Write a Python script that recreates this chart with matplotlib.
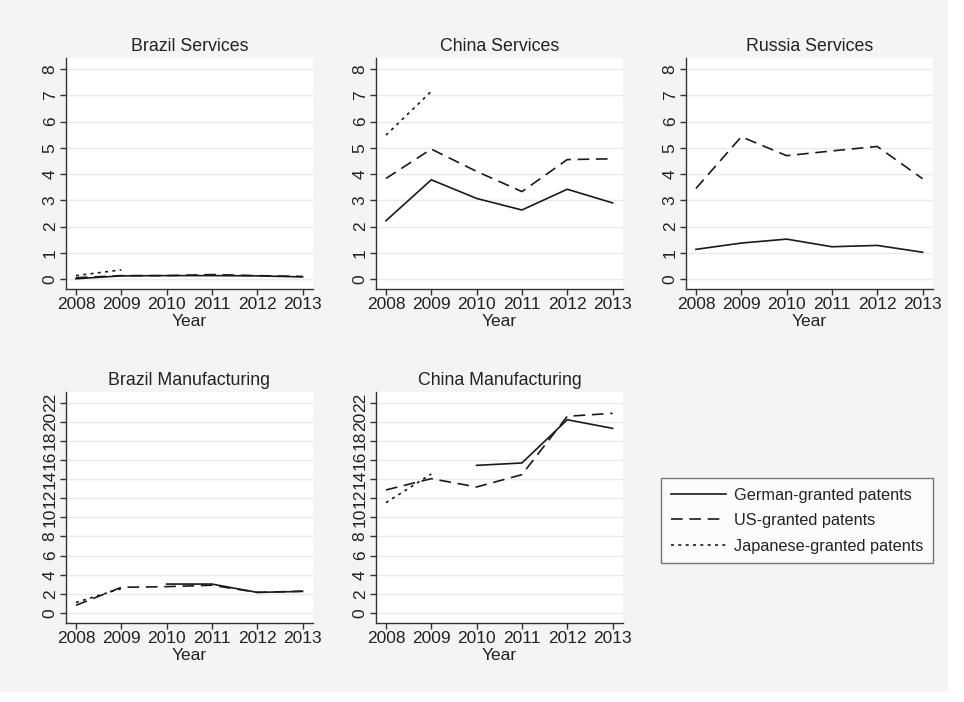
import matplotlib.pyplot as plt
import numpy as np
from matplotlib.patches import Rectangle
from matplotlib.lines import Line2D

plt.rcParams['font.family'] = ['Liberation Sans', 'DejaVu Sans']

years = [2008, 2009, 2010, 2011, 2012, 2013]
nan = np.nan

# 每个面板的三条序列：德国、美国、日本授权专利
brazil_serv_de = [0.01, 0.12, 0.13, 0.13, 0.12, 0.08]
brazil_serv_us = [0.05, 0.13, 0.13, 0.17, 0.13, 0.10]
brazil_serv_jp = [0.13, 0.35, nan, nan, nan, nan]

china_serv_de = [2.22, 3.78, 3.07, 2.63, 3.42, 2.90]
china_serv_us = [3.83, 4.95, 4.10, 3.33, 4.55, 4.58]
china_serv_jp = [5.48, 7.15, nan, nan, nan, nan]

russia_serv_de = [1.13, 1.37, 1.52, 1.23, 1.28, 1.02]
russia_serv_us = [3.45, 5.42, 4.70, 4.88, 5.05, 3.82]
russia_serv_jp = [nan, nan, nan, nan, nan, nan]

brazil_manu_de = [nan, nan, 3.02, 3.02, 2.15, 2.25]
brazil_manu_us = [0.80, 2.68, 2.75, 2.90, 2.15, 2.28]
brazil_manu_jp = [1.10, 2.55, nan, nan, nan, nan]

china_manu_de = [nan, nan, 15.43, 15.68, 20.20, 19.30]
china_manu_us = [12.86, 14.04, 13.17, 14.46, 20.56, 20.87]
china_manu_jp = [11.53, 14.53, nan, nan, nan, nan]

titles = ['Brazil Services', 'China Services', 'Russia Services',
          'Brazil Manufacturing', 'China Manufacturing']
series = [(brazil_serv_de, brazil_serv_us, brazil_serv_jp),
          (china_serv_de, china_serv_us, china_serv_jp),
          (russia_serv_de, russia_serv_us, russia_serv_jp),
          (brazil_manu_de, brazil_manu_us, brazil_manu_jp),
          (china_manu_de, china_manu_us, china_manu_jp)]
legend_labels = ['German-granted patents', 'US-granted patents', 'Japanese-granted patents']

bg = '#f3f4f4'
W, H = 964, 702
fig = plt.figure(figsize=(W / 100, H / 100), dpi=100, facecolor='white')
fig.patches.append(Rectangle((0, 10 / H), 948 / W, 1 - 10 / H, transform=fig.transFigure,
                             facecolor=bg, edgecolor='none', zorder=-10))

lefts = [66, 376, 686, 66, 376]
tops = [58, 58, 58, 392, 392]
aw, ah = 247, 231

styles = [dict(linestyle='-'),
          dict(linestyle=(0, (7, 4))),
          dict(linestyle=(0, (1.8, 2.6)))]

for i in range(5):
    ax = fig.add_axes([lefts[i] / W, 1 - (tops[i] + ah) / H, aw / W, ah / H])
    ax.set_facecolor('white')
    for s, st in zip(series[i], styles):
        ax.plot(years, s, color='#1a1a1a', linewidth=1.2, **st)
    if i < 3:
        ax.set_ylim(-0.38, 8.42)
        ax.set_yticks(range(0, 9))
    else:
        ax.set_ylim(-1.05, 23.1)
        ax.set_yticks(range(0, 23, 2))
    ax.set_xlim(2007.78, 2013.23)
    ax.set_xticks(years)
    ax.grid(axis='y', color='#eaeaea', linewidth=1)
    ax.set_axisbelow(True)
    for sp in ['top', 'right']:
        ax.spines[sp].set_visible(False)
    for sp in ['left', 'bottom']:
        ax.spines[sp].set_color('#333333')
        ax.spines[sp].set_linewidth(1)
    ax.tick_params(axis='both', direction='out', length=4, width=1, color='#333333',
                   labelsize=12.5, labelcolor='#222222', pad=2)
    for lab in ax.get_yticklabels():
        lab.set_rotation(90)
        lab.set_va('center')
    ax.set_title(titles[i], fontsize=12.8, color='#222222', pad=5)
    ax.set_xlabel('Year', fontsize=12.5, color='#222222', labelpad=1)

handles = [Line2D([], [], color='#1a1a1a', linewidth=1.2, **st) for st in styles]
leg = fig.legend(handles, legend_labels, loc='upper left',
                 bbox_to_anchor=(661 / W, 1 - 478 / H), fontsize=11.7,
                 frameon=True, fancybox=False, handlelength=3.4, handletextpad=0.5,
                 borderpad=0.6, labelspacing=0.64, borderaxespad=0)
leg.get_frame().set_edgecolor('#555555')
leg.get_frame().set_linewidth(1)
leg.get_frame().set_facecolor('white')
for t in leg.get_texts():
    t.set_color('#222222')

fig.savefig('out.png', dpi=100, facecolor=fig.get_facecolor())
